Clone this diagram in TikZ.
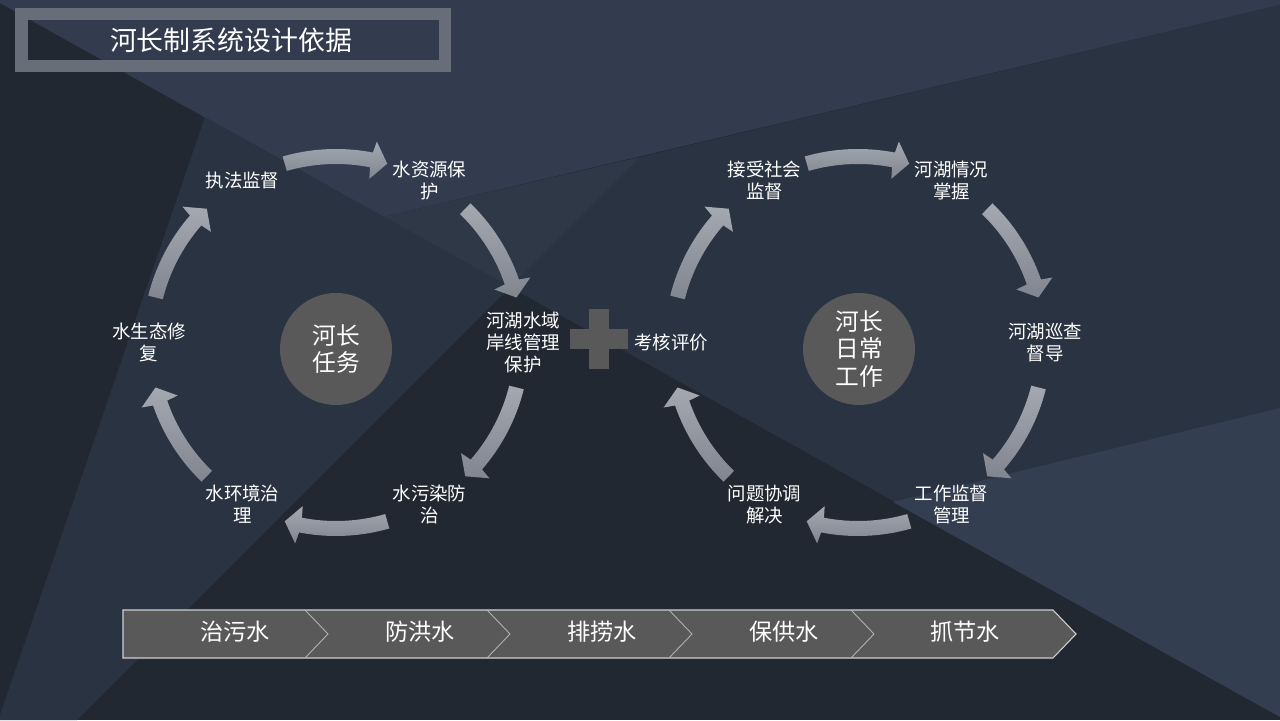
\documentclass[tikz,border=0pt]{standalone}
\usepackage{fontspec}
\setmainfont{Noto Sans CJK SC}
\usepackage{tikz}
\usetikzlibrary{calc,positioning}
\definecolor{bgdark}{HTML}{222831}
\definecolor{bgmid}{HTML}{2A3341}
\definecolor{bgmidlight}{HTML}{2E3847}
\definecolor{bgtop}{HTML}{323C4E}
\definecolor{bgright}{HTML}{333E50}
\definecolor{framegray}{HTML}{686E79}
\definecolor{discgray}{HTML}{595959}
\definecolor{arrowtop}{HTML}{A4A8B1}
\definecolor{arrowbot}{HTML}{80858F}
\definecolor{barline}{HTML}{D0D0D0}
\tikzstyle{cyclabel} = [text=white,align=center,inner sep=0pt,font=\fontsize{10.5}{12.5}\selectfont]
\tikzstyle{disc}     = [circle,fill=discgray,minimum size=2.24cm,inner sep=0pt,text=white,align=center,font=\fontsize{13.5}{15.5}\selectfont]
\tikzstyle{chevtext} = [text=white,font=\fontsize{13.2}{15}\selectfont]
\tikzstyle{bentarrow} = [top color=arrowtop,bottom color=arrowbot]

\begin{document}
\begin{tikzpicture}
        % background pieces
        \useasboundingbox (0,0) rectangle (25.6,14.4);
        \fill[bgdark] (0,0) rectangle (25.6,14.4);
        \coordinate (V1) at (4.1,12.06);
        \coordinate (DL) at (0,14.34);
        \coordinate (DR) at (25.6,0.06);
        \coordinate (SB) at (0,0.1);
        \coordinate (FB) at (1.54,0);
        \coordinate (FD) at (10.2,8.66);
        \coordinate (FT) at (12.8,11.26);
        \coordinate (LD) at (7.66,10.06);
        \coordinate (LR) at (25.6,14.3);
        \coordinate (RD) at (17.86,4.36);
        \coordinate (RR) at (25.6,6.24);
        \fill[bgtop] (0,14.4) -- (DL) -- (LD) -- (LR) -- (25.6,14.4) -- cycle;
        \fill[bgmid] (FD) -- (FT) -- (LR) -- (DR) -- cycle;
        \fill[bgmidlight] (LD) -- (FT) -- (FD) -- cycle;
        \fill[bgmid] (V1) -- (FD) -- (FB) -- (0,0) -- (SB) -- cycle;
        \fill[bgright] (RD) -- (RR) -- (DR) -- cycle;

        % title
        \draw[framegray, line width=0.24cm] (0.43,13.08) rectangle (8.89,14.12);
        \node[text=white, font=\fontsize{15.3}{18}\selectfont] (title) at (4.62,13.6) {河长制系统设计依据};

        % the two cycles
        \coordinate (LC) at (6.72,7.55);
        \coordinate (RC) at (17.16,7.55);
        \node[disc] (task)  at (6.72,7.42) {河长\\任务};
        \node[disc] (daily) at (17.18,7.42) {河长\\日常\\工作};

        \node[cyclabel] (zf) at ($(LC)+(120:3.74)$) {执法监督};
        \node[cyclabel] (sz) at ($(LC)+(60:3.74)$)  {水资源保\\护};
        \node[cyclabel] (ah) at ($(LC)+(0:3.74)$)   {河湖水域\\岸线管理\\保护};
        \node[cyclabel] (wr) at ($(LC)+(-60:3.74)$) {水污染防\\治};
        \node[cyclabel] (hj) at ($(LC)+(-120:3.74)$) {水环境治\\理};
        \node[cyclabel] (st) at ($(LC)+(180:3.74)$) {水生态修\\复};

        \node[cyclabel] (kh) at ($(RC)+(180:3.74)$) {考核评价};
        \node[cyclabel] (js) at ($(RC)+(120:3.74)$) {接受社会\\监督};
        \node[cyclabel] (qk) at ($(RC)+(60:3.74)$)  {河湖情况\\掌握};
        \node[cyclabel] (xc) at ($(RC)+(0:3.74)$)   {河湖巡查\\督导};
        \node[cyclabel] (gz) at ($(RC)+(-60:3.74)$) {工作监督\\管理};
        \node[cyclabel] (wt) at ($(RC)+(-120:3.74)$) {问题协调\\解决};

        % curved arrows, clockwise
        \foreach \cc in {LC,RC}
            \foreach \c in {90,30,-30,-90,-150,150}
                \shade[bentarrow, shift={(\cc)}] ({\c+16}:3.87) arc[start angle=\c+16, end angle=\c-11, radius=3.87]
                    -- ({\c-11.5}:4.1) -- ({\c-16}:3.72) -- ({\c-11.5}:3.34) -- ({\c-11}:3.57)
                    arc[start angle=\c-11, end angle=\c+16, radius=3.57] -- cycle;

        % plus sign
        \coordinate (PL) at (11.98,7.62);
        \fill[discgray] ($(PL)+(-0.58,-0.2)$) rectangle ++(1.16,0.4);
        \fill[discgray] ($(PL)+(-0.2,-0.6)$) rectangle ++(0.4,1.2);

        % chevron bar
        \fill[discgray, draw=barline, line width=0.6pt] (2.46,2.2) -- (21.06,2.2) -- (21.52,1.72) -- (21.06,1.24) -- (2.46,1.24) -- cycle;
        \foreach \x in {6.1,9.74,13.38,17.02}
            \draw[barline!75!discgray, line width=0.5pt] (\x,2.2) -- (\x+0.46,1.72) -- (\x,1.24);
        \foreach \x/\t [count=\i] in {4.7/治污水,8.4/防洪水,12.04/排捞水,15.68/保供水,19.3/抓节水}
            \node[chevtext] (chev\i) at (\x,1.76) {\t};
    \end{tikzpicture}
\end{document}
